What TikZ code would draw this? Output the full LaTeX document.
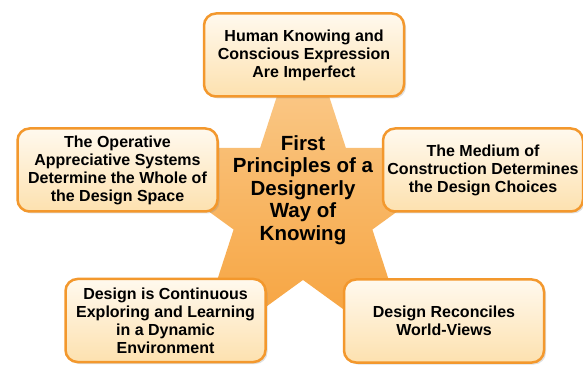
\documentclass[tikz,border=0pt]{standalone}
\usepackage{fontspec}
\setmainfont{Liberation Sans}
\usetikzlibrary{shapes.geometric,shadows}
\definecolor{boxline}{RGB}{243,152,45}
\definecolor{boxtop}{RGB}{255,249,238}
\definecolor{boxbot}{RGB}{253,225,175}
\definecolor{startop}{RGB}{251,210,155}
\definecolor{starbot}{RGB}{246,158,52}
\tikzset{
	idea/.style={draw=boxline, line width=2.5pt, rounded corners=12pt,
		top color=boxtop, bottom color=boxbot, minimum width=200pt, minimum height=83pt,
		align=center, font=\fontsize{16}{18}\selectfont\bfseries,
		drop shadow={opacity=0.25, shadow xshift=2pt, shadow yshift=-2pt}},
	corestar/.style={star, star points=5, star point ratio=2.618, minimum size=382pt,
		inner sep=0pt, top color=startop, bottom color=starbot}
}
\begin{document}
\begin{tikzpicture}[x=1pt,y=1pt]
	\useasboundingbox (0,0) rectangle (583,364);
	\node[corestar] (star) at (303,157) {};
	\node[align=center, font=\fontsize{20.5}{22.5}\selectfont\bfseries] (core) at (303,174)
		{First\\Principles of a\\Designerly\\Way of\\Knowing};
	\foreach \n/\p/\t in {
		top/{304,309}/{Human Knowing and\\Conscious Expression\\Are Imperfect},
		left/{117.5,194}/{The Operative\\Appreciative Systems\\Determine the Whole of\\the Design Space},
		right/{483,194}/{The Medium of\\Construction Determines\\the Design Choices},
		botleft/{165.5,43.5}/{Design is Continuous\\Exploring and Learning\\in a Dynamic\\Environment},
		botright/{444,43}/{Design Reconciles\\World-Views}}{
		\node[idea] (\n) at (\p) {\t};
	}
\end{tikzpicture}
\end{document}
